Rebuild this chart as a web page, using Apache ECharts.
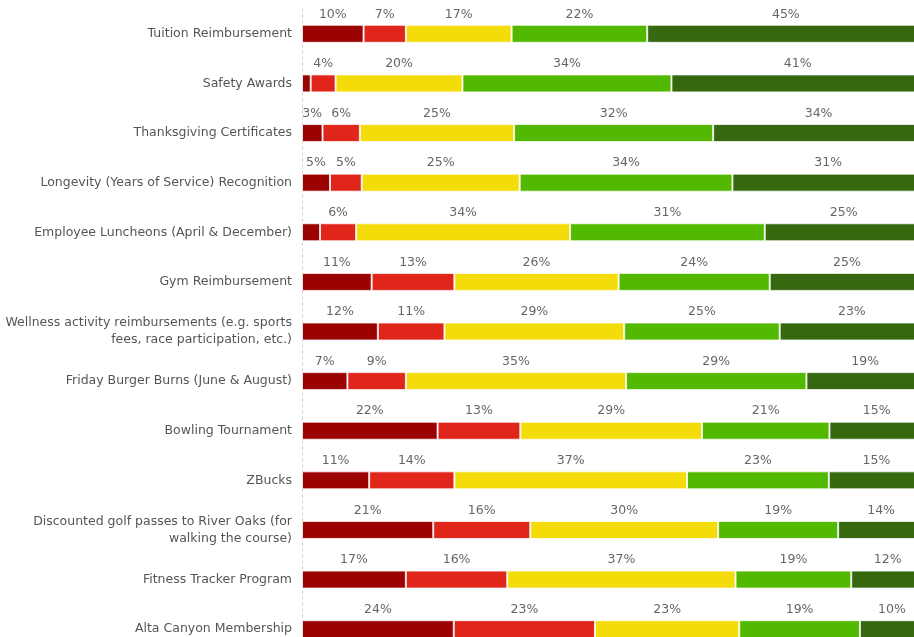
<!DOCTYPE html>
<html>
<head>
<meta charset="utf-8">
<style>
  html, body { margin: 0; padding: 0; background: #fff; }
  #chart { width: 914px; height: 637px; }
</style>
<script src="https://cdn.jsdelivr.net/npm/echarts@6/dist/echarts.min.js"></script>
</head>
<body>
<div id="chart"></div>
<script>
// categories, top to bottom
var categories = [
  'Tuition Reimbursement',
  'Safety Awards',
  'Thanksgiving Certificates',
  'Longevity (Years of Service) Recognition',
  'Employee Luncheons (April & December)',
  'Gym Reimbursement',
  'Wellness activity reimbursements (e.g. sports\nfees, race participation, etc.)',
  'Friday Burger Burns (June & August)',
  'Bowling Tournament',
  'ZBucks',
  'Discounted golf passes to River Oaks (for\nwalking the course)',
  'Fitness Tracker Program',
  'Alta Canyon Membership'
];

// percentages per rating
var level1 = [9.9, 1.4, 3.3, 4.5, 2.9, 11.2, 12.2, 7.3, 21.8, 10.8, 21.1, 16.7, 24.4];
var level2 = [6.8, 4.0, 6.0, 5.1, 5.8, 13.3, 10.7, 9.4, 13.3, 13.7, 15.6, 16.3, 22.7];
var level3 = [17.0, 20.4, 24.8, 25.4, 34.4, 26.4, 28.9, 35.4, 29.2, 37.4, 30.2, 36.7, 23.2];
var level4 = [21.8, 33.6, 32.0, 34.2, 31.3, 24.3, 25.0, 29.0, 20.5, 22.8, 19.3, 18.6, 19.4];
var level5 = [44.6, 40.6, 33.9, 30.8, 25.4, 24.8, 23.2, 18.9, 15.2, 15.3, 13.8, 11.7, 10.3];

var colors = ['#9b0303', '#e0251b', '#f4dc0b', '#53b900', '#36690f'];

var myChart = echarts.init(document.getElementById('chart'));

function mkSeries(name, data, color) {
  return {
    name: name,
    type: 'bar',
    stack: 'total',
    barWidth: 18,
    data: data,
    itemStyle: {
      color: color,
      borderColor: 'rgba(255,255,255,0.75)',
      borderWidth: 1
    },
    label: {
      show: true,
      position: 'top',
      distance: 4,
      color: '#666',
      fontSize: 12.5,
      fontFamily: 'DejaVu Sans',
      formatter: function (p) {
        // tiny slices get no label
        return p.value < 3 ? '' : Math.round(p.value) + '%';
      }
    }
  };
}

var option = {
  animation: false,
  // plot runs past the right and bottom edges, like the cropped original
  grid: {
    left: 302,
    top: 9,
    width: 622,
    height: 645,
    outerBoundsMode: 'none'
  },
  xAxis: {
    type: 'value',
    min: 0,
    max: 100,
    show: false
  },
  yAxis: {
    type: 'category',
    inverse: true,
    data: categories,
    axisLine: {
      show: true,
      lineStyle: { color: '#ccc', type: [2, 4] }
    },
    axisTick: { show: false },
    axisLabel: {
      margin: 10,
      color: '#555',
      fontSize: 12.5,
      fontFamily: 'DejaVu Sans',
      align: 'right',
      lineHeight: 17
    }
  },
  series: [
    mkSeries('1', level1, colors[0]),
    mkSeries('2', level2, colors[1]),
    mkSeries('3', level3, colors[2]),
    mkSeries('4', level4, colors[3]),
    mkSeries('5', level5, colors[4])
  ]
};
myChart.setOption(option);
</script>
</body>
</html>
